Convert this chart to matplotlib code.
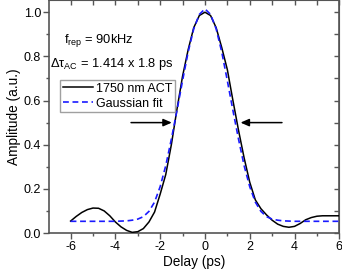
import matplotlib
matplotlib.use("Agg")
import matplotlib.pyplot as plt

# ---- data ----
delay = [-6.0, -5.75, -5.5, -5.25, -5.0, -4.75, -4.5, -4.25, -4.0, -3.75, -3.5, -3.25,
         -3.0, -2.75, -2.5, -2.25, -2.0, -1.75, -1.5, -1.25, -1.0, -0.75, -0.5, -0.25,
         0.0, 0.25, 0.5, 0.75, 1.0, 1.25, 1.5, 1.75, 2.0, 2.25, 2.5, 2.75, 3.0, 3.25,
         3.5, 3.75, 4.0, 4.25, 4.5, 4.75, 5.0, 5.25, 5.5, 5.75, 6.0]
act = [0.054, 0.075, 0.093, 0.106, 0.113, 0.112, 0.100, 0.078, 0.050, 0.028, 0.012, 0.003,
       0.006, 0.020, 0.050, 0.095, 0.176, 0.265, 0.400, 0.560, 0.710, 0.830, 0.930, 0.985,
       1.000, 0.985, 0.930, 0.840, 0.740, 0.600, 0.465, 0.340, 0.230, 0.150, 0.110, 0.082,
       0.058, 0.040, 0.030, 0.026, 0.030, 0.043, 0.060, 0.070, 0.076, 0.078, 0.078, 0.078,
       0.078]
gauss = [0.053, 0.053, 0.053, 0.053, 0.053, 0.053, 0.053, 0.053, 0.053, 0.054, 0.055, 0.058,
         0.063, 0.074, 0.098, 0.140, 0.210, 0.305, 0.425, 0.555, 0.690, 0.820, 0.925, 0.990,
         1.015, 0.990, 0.925, 0.820, 0.690, 0.555, 0.425, 0.305, 0.210, 0.140, 0.098, 0.074,
         0.063, 0.058, 0.055, 0.054, 0.053, 0.053, 0.053, 0.053, 0.053, 0.053, 0.053, 0.053,
         0.053]
x_major = [-6, -4, -2, 0, 2, 4, 6]
y_major = [0.0, 0.2, 0.4, 0.6, 0.8, 1.0]
y_labels = ["0.0", "0.2", "0.4", "0.6", "0.8", "1.0"]

plt.rcParams['font.family'] = ['Liberation Sans', 'DejaVu Sans']
plt.rcParams['mathtext.fontset'] = 'custom'
plt.rcParams['mathtext.rm'] = 'Liberation Sans'
plt.rcParams['mathtext.it'] = 'Liberation Sans:italic'

spine_col = '#555555'
fig = plt.figure(figsize=(3.42, 2.75), dpi=100)
ax = fig.add_axes([0.1442, 0.1527, 0.8479, 0.8455])

ax.plot(delay, act, color='black', lw=1.1, label='1750 nm ACT', zorder=3)
ax.plot(delay, gauss, color='#1a1aff', lw=1.2, ls=(0, (3.5, 2.2)), label='Gaussian fit', zorder=4)

ax.set_xlim(-6.95, 6)
ax.set_ylim(0, 1.053)
ax.set_xticks(x_major)
ax.set_xticklabels([str(v) for v in x_major])
ax.set_xticks([-5, -3, -1, 1, 3, 5], minor=True)
ax.set_yticks(y_major)
ax.set_yticklabels(y_labels)
ax.set_yticks([0.1, 0.3, 0.5, 0.7, 0.9], minor=True)
ax.tick_params(which='major', direction='out', length=4.5, width=1, color=spine_col,
               labelsize=9, pad=1.5)
ax.tick_params(which='minor', direction='out', length=2.5, width=1, color=spine_col)
for s in ax.spines.values():
    s.set_color(spine_col)
    s.set_linewidth(1.2)

top = ax.secondary_xaxis('top')
top.set_xticks(list(range(-6, 7)))
top.tick_params(direction='in', length=3.5, width=1, color=spine_col, labeltop=False)
top.spines['top'].set_color(spine_col)
right = ax.secondary_yaxis('right')
right.set_yticks([i / 10 for i in range(0, 11)])
right.tick_params(direction='in', length=3.5, width=1, color=spine_col, labelright=False)
right.spines['right'].set_color(spine_col)

ax.set_xlabel('Delay (ps)', fontsize=9.8, labelpad=1.5)
ax.set_ylabel('Amplitude (a.u.)', fontsize=9.8, labelpad=2)

ax.text(-6.29, 0.874, r'f$_{\mathrm{rep}}$ = 90kHz', fontsize=9.3, va='center', ha='left')
ax.text(-6.92, 0.764, r'Δτ$_{\mathrm{AC}}$ = 1.414 x 1.8 ps', fontsize=9.3, va='center', ha='left')

arrow = dict(arrowstyle='-|>,head_length=0.5,head_width=0.22', color='black', lw=1.1,
             shrinkA=0, shrinkB=0)
ax.annotate('', xy=(-1.48, 0.5), xytext=(-3.30, 0.5), arrowprops=arrow)
ax.annotate('', xy=(1.59, 0.5), xytext=(3.44, 0.5), arrowprops=arrow)

leg = ax.legend(loc='upper left', bbox_to_anchor=(0.037, 0.658), borderaxespad=0,
                fontsize=9, frameon=True, fancybox=False, handlelength=2.4,
                handletextpad=0.3, borderpad=0.2, labelspacing=0.25)
leg.get_frame().set_edgecolor('#888888')
leg.get_frame().set_linewidth(1.0)

fig.savefig('out.png', dpi=100)
